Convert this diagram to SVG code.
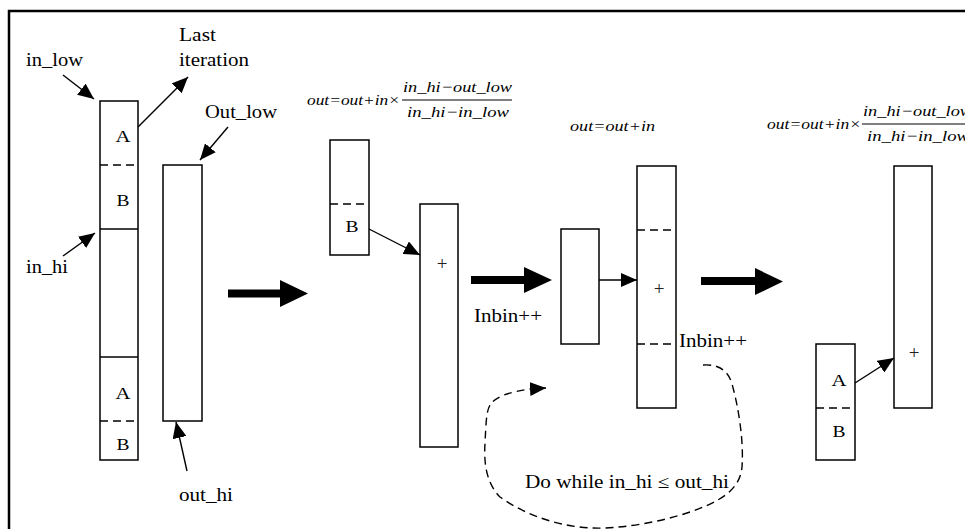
<svg xmlns="http://www.w3.org/2000/svg" width="965" height="529" viewBox="0 0 965 529">
  <style>
    .bar { fill: #fff; stroke: #000; stroke-width: 1.5; }
    .cut { stroke: #000; stroke-width: 1.4; stroke-dasharray: 8 5; fill: none; }
    .thin { stroke: #000; stroke-width: 1.4; fill: none; marker-end: url(#head); }
    .loop { stroke: #000; stroke-width: 1.4; stroke-dasharray: 8 5; fill: none; marker-end: url(#head); }
    .big { fill: #000; }
    .lbl { font-family: "Liberation Serif", "Times New Roman", serif; font-size: 18px; fill: #000; }
    .seg { font-family: "Liberation Serif", "Times New Roman", serif; font-size: 17px; fill: #000; text-anchor: middle; }
    .plus { font-family: "Liberation Serif", "Times New Roman", serif; font-size: 19px; fill: #222; text-anchor: middle; }
    .eq { font-family: "Liberation Serif", "Times New Roman", serif; font-style: italic; font-size: 15px; fill: #000; }
    .frac { stroke: #000; stroke-width: 1; }
  </style>
  <defs>
    <marker id="head" markerUnits="userSpaceOnUse" markerWidth="17" markerHeight="14" refX="16" refY="7" orient="auto">
      <path d="M0,0 L16,7 L0,14 Z" fill="#000" stroke="none"/>
    </marker>
  </defs>

  <!-- page frame (left and top edges) -->
  <path d="M9,529 V11 H965" fill="none" stroke="#000" stroke-width="2.5"/>

  <!-- stage 1: input bins -->
  <g id="input-column">
    <rect class="bar" x="100" y="101" width="38" height="359"/>
    <line class="cut" x1="100" y1="165" x2="138" y2="165"/>
    <line x1="100" y1="229" x2="138" y2="229" stroke="#000" stroke-width="1.5"/>
    <line x1="100" y1="357" x2="138" y2="357" stroke="#000" stroke-width="1.5"/>
    <line class="cut" x1="100" y1="421" x2="138" y2="421"/>
    <text class="seg" x="123" y="142" textLength="15" lengthAdjust="spacingAndGlyphs">A</text>
    <text class="seg" x="123" y="206" textLength="13" lengthAdjust="spacingAndGlyphs">B</text>
    <text class="seg" x="123" y="399" textLength="15" lengthAdjust="spacingAndGlyphs">A</text>
    <text class="seg" x="123" y="450" textLength="13" lengthAdjust="spacingAndGlyphs">B</text>
  </g>

  <!-- stage 1: output bin -->
  <g id="output-column">
    <rect class="bar" x="163" y="165" width="39" height="256"/>
  </g>

  <!-- stage 1 labels -->
  <g id="labels">
    <text class="lbl" x="26" y="66" textLength="57" lengthAdjust="spacingAndGlyphs">in_low</text>
    <text class="lbl" x="179" y="41" textLength="37" lengthAdjust="spacingAndGlyphs">Last</text>
    <text class="lbl" x="179" y="66" textLength="70" lengthAdjust="spacingAndGlyphs">iteration</text>
    <text class="lbl" x="205" y="118" textLength="72" lengthAdjust="spacingAndGlyphs">Out_low</text>
    <text class="lbl" x="26" y="273" textLength="42" lengthAdjust="spacingAndGlyphs">in_hi</text>
    <text class="lbl" x="179" y="501" textLength="54" lengthAdjust="spacingAndGlyphs">out_hi</text>
  </g>

  <!-- stage 2: partial bin B added into output -->
  <g id="stage2-input">
    <rect class="bar" x="330" y="140" width="39" height="115"/>
    <line class="cut" x1="330" y1="204" x2="369" y2="204"/>
    <text class="seg" x="352" y="232" textLength="13" lengthAdjust="spacingAndGlyphs">B</text>
  </g>
  <g id="stage2-output">
    <rect class="bar" x="420" y="204" width="38" height="243"/>
    <text class="plus" x="442" y="270">+</text>
  </g>
  <g id="stage2-formula">
    <text class="eq" x="307" y="105" textLength="93" lengthAdjust="spacingAndGlyphs">out=out+in×</text>
    <text class="eq" x="403" y="92" textLength="109" lengthAdjust="spacingAndGlyphs">in_hi−out_low</text>
    <line class="frac" x1="402" y1="100" x2="512" y2="100"/>
    <text class="eq" x="407" y="117" textLength="102" lengthAdjust="spacingAndGlyphs">in_hi−in_low</text>
  </g>

  <!-- stage 3: whole bin added -->
  <g id="stage3-input">
    <rect class="bar" x="561" y="229" width="38" height="115"/>
  </g>
  <g id="stage3-output">
    <rect class="bar" x="637" y="166" width="39" height="242"/>
    <line class="cut" x1="637" y1="230" x2="676" y2="230"/>
    <line class="cut" x1="637" y1="344" x2="676" y2="344"/>
    <text class="plus" x="659" y="295">+</text>
  </g>
  <g id="stage3-formula">
    <text class="eq" x="570" y="131" textLength="85" lengthAdjust="spacingAndGlyphs">out=out+in</text>
  </g>
  <g id="inbin-labels">
    <text class="lbl" x="474" y="322" textLength="68" lengthAdjust="spacingAndGlyphs">Inbin++</text>
    <text class="lbl" x="679" y="347" textLength="68" lengthAdjust="spacingAndGlyphs">Inbin++</text>
    <text class="lbl" x="525" y="488" textLength="204" lengthAdjust="spacingAndGlyphs">Do while in_hi ≤ out_hi</text>
  </g>

  <!-- stage 4: last partial bin A -->
  <g id="stage4-input">
    <rect class="bar" x="816" y="344" width="39" height="116"/>
    <line class="cut" x1="816" y1="408" x2="855" y2="408"/>
    <text class="seg" x="839" y="386" textLength="15" lengthAdjust="spacingAndGlyphs">A</text>
    <text class="seg" x="839" y="437" textLength="13" lengthAdjust="spacingAndGlyphs">B</text>
  </g>
  <g id="stage4-output">
    <rect class="bar" x="894" y="166" width="38" height="242"/>
    <text class="plus" x="914" y="359">+</text>
  </g>
  <g id="stage4-formula">
    <text class="eq" x="767" y="129" textLength="94" lengthAdjust="spacingAndGlyphs">out=out+in×</text>
    <text class="eq" x="863" y="116" textLength="109" lengthAdjust="spacingAndGlyphs">in_hi−out_low</text>
    <line class="frac" x1="862" y1="124" x2="972" y2="124"/>
    <text class="eq" x="867" y="141" textLength="102" lengthAdjust="spacingAndGlyphs">in_hi−in_low</text>
  </g>

  <!-- connectors -->
  <g id="connectors">
    <line class="thin" x1="63" y1="75" x2="94" y2="99"/>
    <line class="thin" x1="138" y1="127" x2="188" y2="77"/>
    <line class="thin" x1="228" y1="127" x2="200" y2="160"/>
    <line class="thin" x1="63" y1="256" x2="95" y2="233"/>
    <line class="thin" x1="187" y1="471" x2="176" y2="422"/>
    <line class="thin" x1="369" y1="229" x2="420" y2="255"/>
    <line class="thin" x1="599" y1="280" x2="637" y2="280"/>
    <line class="thin" x1="855" y1="383" x2="894" y2="358"/>
    <path class="loop" d="M703,365 C718,364 728,370 732,384 C738,405 744,440 742,467 C740,490 720,502 687,513 C660,522 620,529 593,528 C560,527 525,515 500,497 C485,482 484,460 485,443 C486,425 486,412 490,405 C496,396 510,392 530,389 L546,388"/>
    <!-- bold step arrows -->
    <path class="big" d="M228,289.5 H280 V280 L308,293.5 L280,307 V297.5 H228 Z"/>
    <path class="big" d="M471,276 H524 V267 L552,280 L524,293 V284 H471 Z"/>
    <path class="big" d="M701,277 H755 V268 L783,281.5 L755,295 V285 H701 Z"/>
  </g>
</svg>
